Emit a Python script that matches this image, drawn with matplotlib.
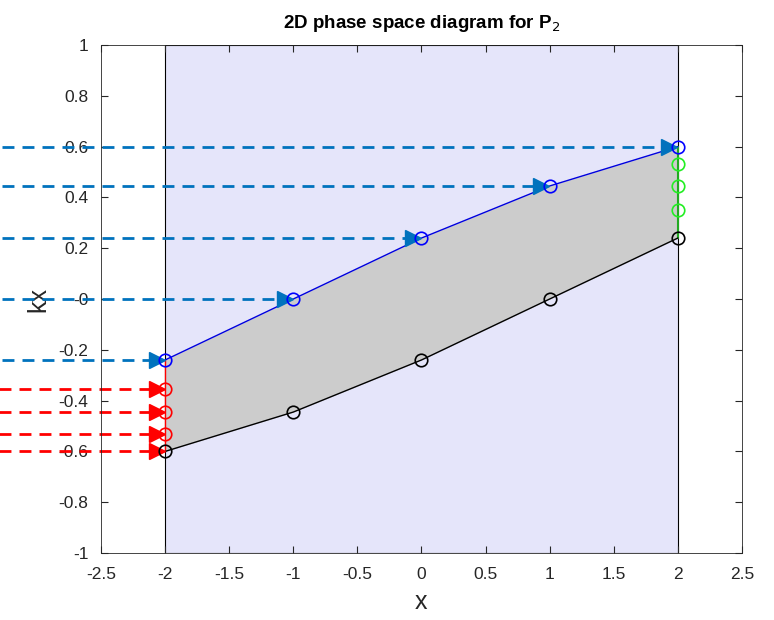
import numpy as np
import matplotlib.pyplot as plt
from matplotlib.patches import Rectangle
from matplotlib.ticker import FormatStrFormatter

plt.rcParams['font.family'] = ['Liberation Sans', 'DejaVu Sans']

# phase space data
x_nodes = [-2, -1, 0, 1, 2]
kx_upper = [-0.24, 0.0, 0.24, 0.445, 0.6]
kx_lower = [-0.6, -0.445, -0.24, 0.0, 0.24]
kx_left_extra = [-0.355, -0.445, -0.53]
kx_right_extra = [0.35, 0.445, 0.53]
kx_red_rays = [-0.355, -0.445, -0.53, -0.6]

x_min, x_max = -2, 2
ray_start = -3.27
arrow_gap = 0.065

blue = '#0072BD'
red = '#FF0000'

fig = plt.figure(figsize=(7.74, 6.2), dpi=100)
ax = fig.add_axes([0.1305, 0.108, 0.828, 0.8194])

ax.add_patch(Rectangle((x_min, -1), x_max - x_min, 2, facecolor='#E5E5FA',
                       edgecolor='black', linewidth=0.8, zorder=1))
ax.fill_between(x_nodes, kx_lower, kx_upper, color='#CCCCCC', linewidth=0, zorder=2)

# rays coming from the left
for i, k in enumerate(kx_upper):
    xe = x_nodes[i] - arrow_gap
    ax.plot([ray_start, xe], [k, k], color=blue, lw=2, dashes=(4.3, 2.9), clip_on=False, zorder=4)
    ax.plot(xe, k, marker='>', color=blue, markersize=11, clip_on=False, zorder=5)
for k in kx_red_rays:
    xe = x_min - arrow_gap
    ax.plot([ray_start - 0.03, xe], [k, k], color=red, lw=2, dashes=(4.3, 2.9), clip_on=False, zorder=4)
    ax.plot(xe, k, marker='>', color=red, markersize=11, clip_on=False, zorder=5)

# boundaries
ax.plot([x_min, x_min], [kx_lower[0], kx_upper[0]], color=red, lw=1, zorder=3)
ax.plot([x_max, x_max], [kx_lower[-1], kx_upper[-1]], color='#22AA22', lw=1.5, zorder=3)
ax.plot(x_nodes, kx_upper, color='#0000DD', lw=1, zorder=3)
ax.plot(x_nodes, kx_lower, color='black', lw=1, zorder=3)

ax.plot(x_nodes, kx_upper, 'o', mfc='none', mec='#0000FF', ms=9, mew=1.2, zorder=6)
ax.plot(x_nodes, kx_lower, 'o', mfc='none', mec='black', ms=9, mew=1.2, zorder=6)
ax.plot([x_min] * len(kx_left_extra), kx_left_extra, 'o', mfc='none', mec=red, ms=9, mew=1.2, zorder=6)
ax.plot([x_max] * len(kx_right_extra), kx_right_extra, 'o', mfc='none', mec='#22EE22', ms=9, mew=1.2, zorder=6)

ax.set_xlim(-2.5, 2.5)
ax.set_ylim(-1, 1)
ax.set_xticks(np.round(np.arange(-2.5, 2.51, 0.5), 2))
ax.set_yticks(np.round(np.arange(-1, 1.01, 0.2), 2))
ax.xaxis.set_major_formatter(FormatStrFormatter('%g'))
ax.yaxis.set_major_formatter(FormatStrFormatter('%g'))
ax.tick_params(direction='in', top=True, right=True, labelsize=12.5, colors='#262626', length=5)
ax.tick_params(axis='x', pad=10)
ax.tick_params(axis='y', pad=9)
for s in ax.spines.values():
    s.set_color('#262626')
    s.set_linewidth(0.6)
    s.set_zorder(7)

ax.set_xlabel('x', fontsize=18, color='#262626', labelpad=6)
ax.set_ylabel('kx', fontsize=18, color='#262626', labelpad=6)
ax.set_title('2D phase space diagram for P$_2$', fontsize=13.5, fontweight='bold', pad=12)

fig.savefig('out.png', dpi=100)
